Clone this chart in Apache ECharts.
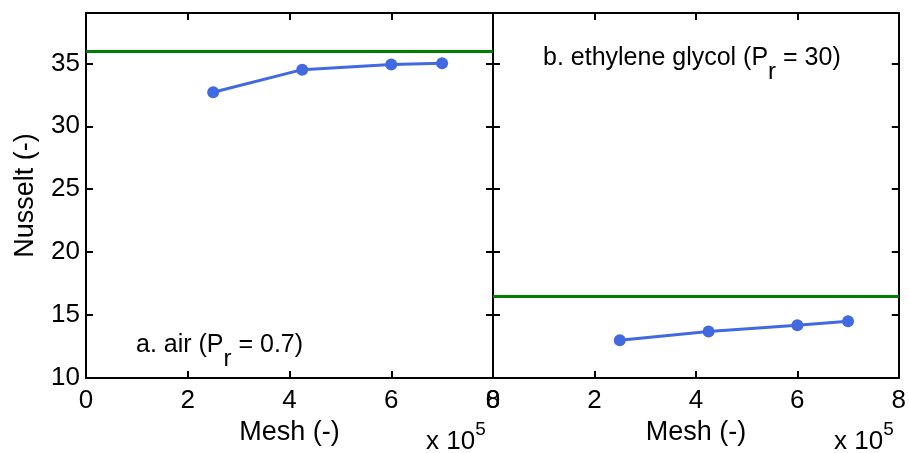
<!DOCTYPE html>
<html>
<head>
<meta charset="utf-8">
<script src="https://cdn.jsdelivr.net/npm/echarts@6/dist/echarts.min.js"></script>
<style>html,body{margin:0;padding:0;background:#fff}#c{width:909px;height:453px}</style>
</head>
<body>
<div id="c"></div>
<script>
// ---- data ----
const meshAir = [2.5, 4.25, 6, 7];          // x 10^5
const nusseltAir = [32.7, 34.5, 34.9, 35.0];
const meshGlycol = [2.5, 4.25, 6, 7];       // x 10^5
const nusseltGlycol = [13.0, 13.7, 14.2, 14.5];
const refAir = 36.0;
const refGlycol = 16.5;
const xTickValues = [0, 2, 4, 6, 8];
const yTickValues = [10, 15, 20, 25, 30, 35];
const labelAir = ['a. air (P', 'r', ' = 0.7)'];
const labelGlycol = ['b. ethylene glycol (P', 'r', ' = 30)'];
const scaleLabel = ['x 10', '5'];

const FAMILY = 'Liberation Sans';
const FONT = '"Liberation Sans", Arial, sans-serif';
const BLUE = '#4169E1';
const GREEN = '#007F00';

const chart = echarts.init(document.getElementById('c'), null, {renderer: 'canvas'});

function xAx(grid, pos, labels, name) {
  return {
    type: 'value', gridIndex: grid, position: pos, min: 0, max: 8, interval: 2,
    name: name || '', nameLocation: 'middle', nameGap: 37,
    nameTextStyle: {fontFamily: FONT, fontSize: 27, color: '#000'},
    axisLine: {show: true, onZero: false, lineStyle: {color: '#000', width: 2}},
    axisTick: {show: true, inside: true, length: 7, customValues: xTickValues,
      lineStyle: {color: '#000', width: 2}},
    axisLabel: {show: labels, margin: 10, fontFamily: FONT, fontSize: 26, color: '#000',
      customValues: xTickValues, showMinLabel: true, showMaxLabel: true},
    splitLine: {show: false}
  };
}
function yAx(grid, pos, labels, name) {
  return {
    type: 'value', gridIndex: grid, position: pos, min: 10, max: 39, interval: 5,
    name: name || '', nameLocation: 'middle', nameGap: 47,
    nameTextStyle: {fontFamily: FONT, fontSize: 27, color: '#000'},
    axisLine: {show: true, onZero: false, lineStyle: {color: '#000', width: 2}},
    axisTick: {show: true, inside: true, length: 7, customValues: yTickValues,
      lineStyle: {color: '#000', width: 2}},
    axisLabel: {show: labels, margin: 6, fontFamily: FONT, fontSize: 26, color: '#000',
      customValues: yTickValues,
      formatter: v => (yTickValues.indexOf(v) >= 0 ? String(v) : '')},
    splitLine: {show: false}
  };
}

function refLine(v) {
  return {
    silent: true, symbol: ['none', 'none'], label: {show: false},
    lineStyle: {color: GREEN, width: 3, type: 'solid'},
    emphasis: {disabled: true},
    data: [{yAxis: v}]
  };
}

// text measuring for sub/superscript placement
const ctx = document.createElement('canvas').getContext('2d');
function tw(text, size) {
  ctx.font = size + 'px "' + FAMILY + '"';
  return ctx.measureText(text).width;
}
// parts = [before, script, after]; dy = vertical shift of script (px, + down)
function scripted(parts, x, yMid, size, scriptSize, dy) {
  const w0 = tw(parts[0], size);
  const w1 = tw(parts[1], scriptSize);
  const base = {fill: '#000', fontFamily: FONT, verticalAlign: 'middle', align: 'left'};
  const out = [
    {type: 'text', x: x, y: yMid, z: 10, style: Object.assign({}, base, {text: parts[0], fontSize: size})},
    {type: 'text', x: x + w0, y: yMid + dy, z: 10, style: Object.assign({}, base, {text: parts[1], fontSize: scriptSize})}
  ];
  if (parts[2]) {
    out.push({type: 'text', x: x + w0 + w1, y: yMid, z: 10,
      style: Object.assign({}, base, {text: parts[2], fontSize: size})});
  }
  return out;
}

chart.setOption({
  animation: false,
  backgroundColor: '#fff',
  grid: [
    {left: 86, top: 13, width: 407, height: 365, containLabel: false},
    {left: 493, top: 13, width: 407, height: 365, containLabel: false}
  ],
  xAxis: [
    xAx(0, 'bottom', true, 'Mesh (-)'),
    xAx(0, 'top', false),
    xAx(1, 'bottom', true, 'Mesh (-)'),
    xAx(1, 'top', false)
  ],
  yAxis: [
    yAx(0, 'left', true, 'Nusselt (-)'),
    yAx(0, 'right', false),
    yAx(1, 'left', false),
    yAx(1, 'right', false)
  ],
  series: [
    {
      type: 'line', xAxisIndex: 0, yAxisIndex: 0,
      data: meshAir.map((x, i) => [x, nusseltAir[i]]),
      symbol: 'circle', symbolSize: 12,
      lineStyle: {color: BLUE, width: 3}, itemStyle: {color: BLUE},
      markLine: refLine(refAir)
    },
    {
      type: 'line', xAxisIndex: 2, yAxisIndex: 2,
      data: meshGlycol.map((x, i) => [x, nusseltGlycol[i]]),
      symbol: 'circle', symbolSize: 12,
      lineStyle: {color: BLUE, width: 3}, itemStyle: {color: BLUE},
      markLine: refLine(refGlycol)
    }
  ],
  graphic: [].concat(
    scripted(labelAir, 136, 345, 25, 24, 14),
    scripted(labelGlycol, 543, 58, 25, 24, 14),
    scripted(scaleLabel, 426, 442, 26, 19, -12),
    scripted(scaleLabel, 834, 442, 26, 19, -12)
  )
});
</script>
</body>
</html>
